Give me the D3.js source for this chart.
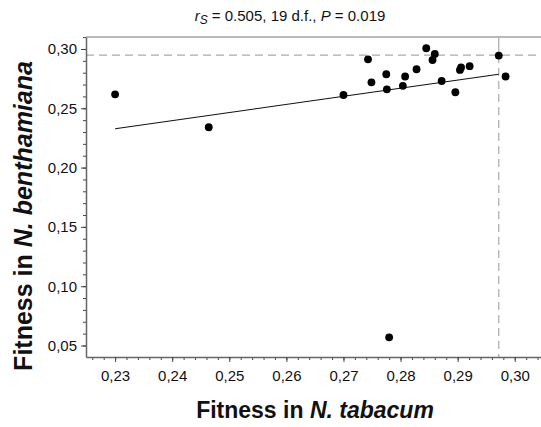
<!DOCTYPE html>
<html>
<head>
<meta charset="utf-8">
<script src="https://cdn.jsdelivr.net/npm/d3@7"></script>
<style>
  body { margin: 0; background: #fff; }
  svg { display: block; font-family: Arial, "Liberation Sans", sans-serif; }
</style>
</head>
<body>
<div id="chart"></div>
<script>
// fitness of each isolate in the two hosts
const tabacum = [0.2300, 0.2464, 0.2780, 0.2700, 0.2743, 0.2749, 0.2775, 0.2776, 0.2804, 0.2808,
                 0.2828, 0.2845, 0.2860, 0.2856, 0.2872, 0.2896, 0.2904, 0.2906, 0.2921, 0.2972, 0.2984];
const benthamiana = [0.2618, 0.2340, 0.0569, 0.2612, 0.2913, 0.2719, 0.2787, 0.2660, 0.2689, 0.2768,
                     0.2829, 0.3006, 0.2958, 0.2907, 0.2730, 0.2635, 0.2823, 0.2844, 0.2855, 0.2944, 0.2768];

// fitted line
const fitX = [0.2300, 0.2972];
const fitY = [0.2328, 0.2787];

// ancestral fitness reference lines
const refTabacum = 0.2972;
const refBenthamiana = 0.2949;

const xTicks = [0.23, 0.24, 0.25, 0.26, 0.27, 0.28, 0.29, 0.30];
const yTicks = [0.05, 0.10, 0.15, 0.20, 0.25, 0.30];

const width = 541, height = 427;
const plot = { left: 86, right: 541, top: 37, bottom: 357 };
const fmt = v => d3.format(".2f")(v).replace(".", ",");

const svg = d3.select("#chart").append("svg")
    .attr("width", width)
    .attr("height", height);

const x = d3.scaleLinear().domain([0.2249, 0.3046]).range([plot.left, plot.right]);
const y = d3.scaleLinear().domain([0.0403, 0.3101]).range([plot.bottom, plot.top]);

// top frame line
svg.append("line")
    .attr("x1", plot.left).attr("x2", plot.right)
    .attr("y1", plot.top).attr("y2", plot.top)
    .attr("stroke", "#777").attr("stroke-width", 1.2);

// reference lines
svg.append("line")
    .attr("x1", plot.left).attr("x2", plot.right)
    .attr("y1", y(refBenthamiana)).attr("y2", y(refBenthamiana))
    .attr("stroke", "#aaa").attr("stroke-width", 1.2)
    .attr("stroke-dasharray", "8,5");
svg.append("line")
    .attr("x1", x(refTabacum)).attr("x2", x(refTabacum))
    .attr("y1", plot.top).attr("y2", y(refBenthamiana))
    .attr("stroke", "#aaa").attr("stroke-width", 1.2);
svg.append("line")
    .attr("x1", x(refTabacum)).attr("x2", x(refTabacum))
    .attr("y1", y(refBenthamiana)).attr("y2", plot.bottom)
    .attr("stroke", "#aaa").attr("stroke-width", 1.2)
    .attr("stroke-dasharray", "8,5");

// axes
const minorX = d3.range(0.226, 0.3041, 0.002);
const minorY = d3.range(0.05, 0.3101, 0.01);

const xAxis = svg.append("g").attr("transform", `translate(0,${plot.bottom})`);
xAxis.append("g")
    .call(d3.axisBottom(x).tickValues(minorX).tickSize(3).tickFormat(""))
    .call(g => g.select(".domain").remove());
xAxis.append("g")
    .call(d3.axisBottom(x).tickValues(xTicks).tickSize(5).tickSizeOuter(0).tickPadding(8).tickFormat(fmt));

const yAxis = svg.append("g").attr("transform", `translate(${plot.left},0)`);
yAxis.append("g")
    .call(d3.axisLeft(y).tickValues(minorY).tickSize(3).tickFormat(""))
    .call(g => g.select(".domain").remove());
yAxis.append("g")
    .call(d3.axisLeft(y).tickValues(yTicks).tickSize(5).tickSizeOuter(0).tickPadding(4).tickFormat(fmt));

svg.selectAll(".domain").attr("stroke", "#666").attr("stroke-width", 1.5);
svg.selectAll(".tick line").attr("stroke", "#444");
svg.selectAll(".tick text").attr("fill", "#111").attr("font-size", 15)
    .attr("font-family", "Arial, 'Liberation Sans', sans-serif");

// fitted line
svg.append("line")
    .attr("x1", x(fitX[0])).attr("y1", y(fitY[0]))
    .attr("x2", x(fitX[1])).attr("y2", y(fitY[1]))
    .attr("stroke", "#111").attr("stroke-width", 1.1);

// points
svg.append("g").selectAll("circle")
    .data(tabacum.map((t, i) => [t, benthamiana[i]]))
    .join("circle")
    .attr("cx", d => x(d[0]))
    .attr("cy", d => y(d[1]))
    .attr("r", 3.9)
    .attr("fill", "#000");

// title
const title = svg.append("text")
    .attr("x", 290).attr("y", 21)
    .attr("text-anchor", "middle")
    .attr("font-size", 15)
    .attr("fill", "#111");
title.append("tspan").attr("font-style", "italic").text("r");
title.append("tspan").attr("font-style", "italic").attr("font-size", 12).attr("dy", 3).text("S");
title.append("tspan").attr("dy", -3).text(" = 0.505, 19 d.f., ");
title.append("tspan").attr("font-style", "italic").text("P");
title.append("tspan").text(" = 0.019");

// axis titles
const xLabel = svg.append("text")
    .attr("x", 315).attr("y", 418)
    .attr("text-anchor", "middle")
    .attr("font-size", 23).attr("font-weight", "bold")
    .attr("fill", "#111");
xLabel.append("tspan").text("Fitness in ");
xLabel.append("tspan").attr("font-style", "italic").text("N. tabacum");

const yLabel = svg.append("text")
    .attr("transform", "translate(32,216) rotate(-90)")
    .attr("text-anchor", "middle")
    .attr("font-size", 25).attr("font-weight", "bold")
    .attr("fill", "#111");
yLabel.append("tspan").text("Fitness in ");
yLabel.append("tspan").attr("font-style", "italic").text("N. benthamiana");
</script>
</body>
</html>
